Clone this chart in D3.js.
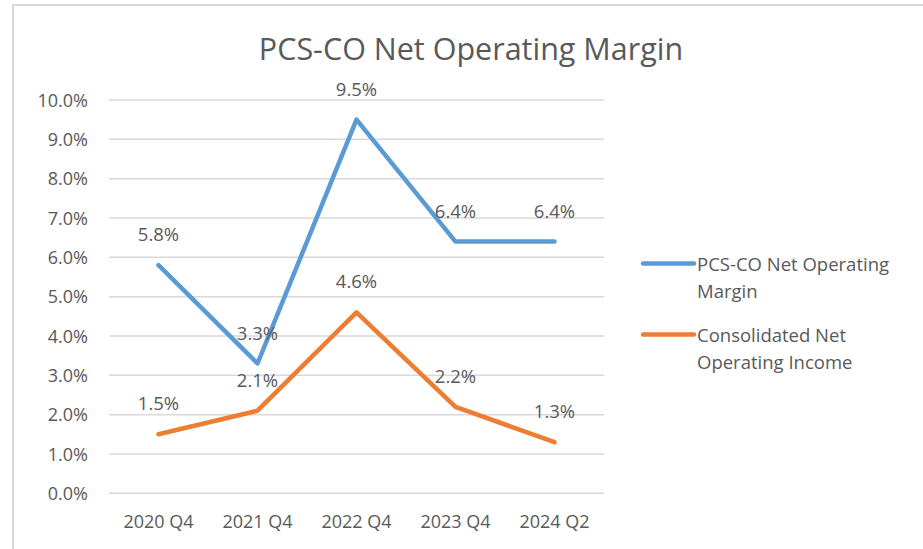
<!DOCTYPE html>
<html>
<head>
<meta charset="utf-8">
<script src="https://cdn.jsdelivr.net/npm/d3@7"></script>
<style>
  body { margin: 0; background: #fff; }
  svg text { font-family: "Open Sans", sans-serif; fill: #595959; }
</style>
</head>
<body>
<div id="chart"></div>
<script>
// chart data
const categories = ["2020 Q4", "2021 Q4", "2022 Q4", "2023 Q4", "2024 Q2"];
const pcsMargin = [0.058, 0.033, 0.095, 0.064, 0.064];
const consolidatedIncome = [0.015, 0.021, 0.046, 0.022, 0.013];
const seriesNames = [["PCS-CO Net Operating", "Margin"], ["Consolidated Net", "Operating Income"]];
const yTicks = [0, 0.01, 0.02, 0.03, 0.04, 0.05, 0.06, 0.07, 0.08, 0.09, 0.10];

const width = 923, height = 549;
const colors = ["#5b9bd5", "#ed7d31"];

const svg = d3.select("#chart").append("svg")
  .attr("width", width)
  .attr("height", height);

// outer chart border (only top / left show in the frame)
svg.append("rect")
  .attr("x", 13).attr("y", 5)
  .attr("width", 1000).attr("height", 1000)
  .attr("fill", "none")
  .attr("stroke", "#d9d9d9")
  .attr("stroke-width", 2);

// title
svg.append("text")
  .attr("x", 471).attr("y", 60)
  .attr("text-anchor", "middle")
  .style("font-size", "30.5px")
  .text("PCS-CO Net Operating Margin");

const x = d3.scaleBand().domain(categories).range([109, 604]);
const y = d3.scaleLinear().domain([0, 0.10]).range([493.3, 100]);
const fmt = d3.format(".1%");

// gridlines
svg.append("g")
  .selectAll("line")
  .data(yTicks)
  .join("line")
  .attr("x1", 109).attr("x2", 604)
  .attr("y1", d => y(d)).attr("y2", d => y(d))
  .attr("stroke", "#d9d9d9")
  .attr("stroke-width", 1.5);

// y axis labels
const yAxis = svg.append("g")
  .attr("transform", "translate(88,0)")
  .call(d3.axisLeft(y).tickValues(yTicks).tickFormat(fmt).tickSize(0).tickPadding(0));
yAxis.select(".domain").remove();
yAxis.selectAll("text").style("font-size", "18px").attr("dy", "0.35em");

// x axis labels
const xAxis = svg.append("g")
  .attr("transform", "translate(0,510)")
  .call(d3.axisBottom(x).tickSize(0).tickPadding(0));
xAxis.select(".domain").remove();
xAxis.selectAll("text").style("font-size", "18px").attr("dy", "0").attr("y", 18);

// lines
const line = d3.line()
  .x((d, i) => x(categories[i]) + x.bandwidth() / 2)
  .y(d => y(d));

[pcsMargin, consolidatedIncome].forEach((vals, k) => {
  svg.append("path")
    .datum(vals)
    .attr("d", line)
    .attr("fill", "none")
    .attr("stroke", colors[k])
    .attr("stroke-width", 4.5)
    .attr("stroke-linejoin", "round")
    .attr("stroke-linecap", "round");
});

// data labels
[pcsMargin, consolidatedIncome].forEach((vals, k) => {
  svg.append("g")
    .selectAll("text")
    .data(vals)
    .join("text")
    .attr("x", (d, i) => x(categories[i]) + x.bandwidth() / 2)
    .attr("y", d => y(d) - 24)
    .attr("text-anchor", "middle")
    .style("font-size", "18.5px")
    .text(d => fmt(d));
});

// legend
const legend = svg.append("g");
const legendY = [263.5, 334.5];
seriesNames.forEach((name, k) => {
  legend.append("line")
    .attr("x1", 643).attr("x2", 694)
    .attr("y1", legendY[k]).attr("y2", legendY[k])
    .attr("stroke", colors[k])
    .attr("stroke-width", 4.5)
    .attr("stroke-linecap", "round");
  legend.append("text")
    .attr("x", 697)
    .attr("y", legendY[k] + 7)
    .style("font-size", "18.5px")
    .selectAll("tspan")
    .data(name)
    .join("tspan")
    .attr("x", 697)
    .attr("dy", (d, i) => i === 0 ? 0 : 27.5)
    .text(d => d);
});
</script>
</body>
</html>
